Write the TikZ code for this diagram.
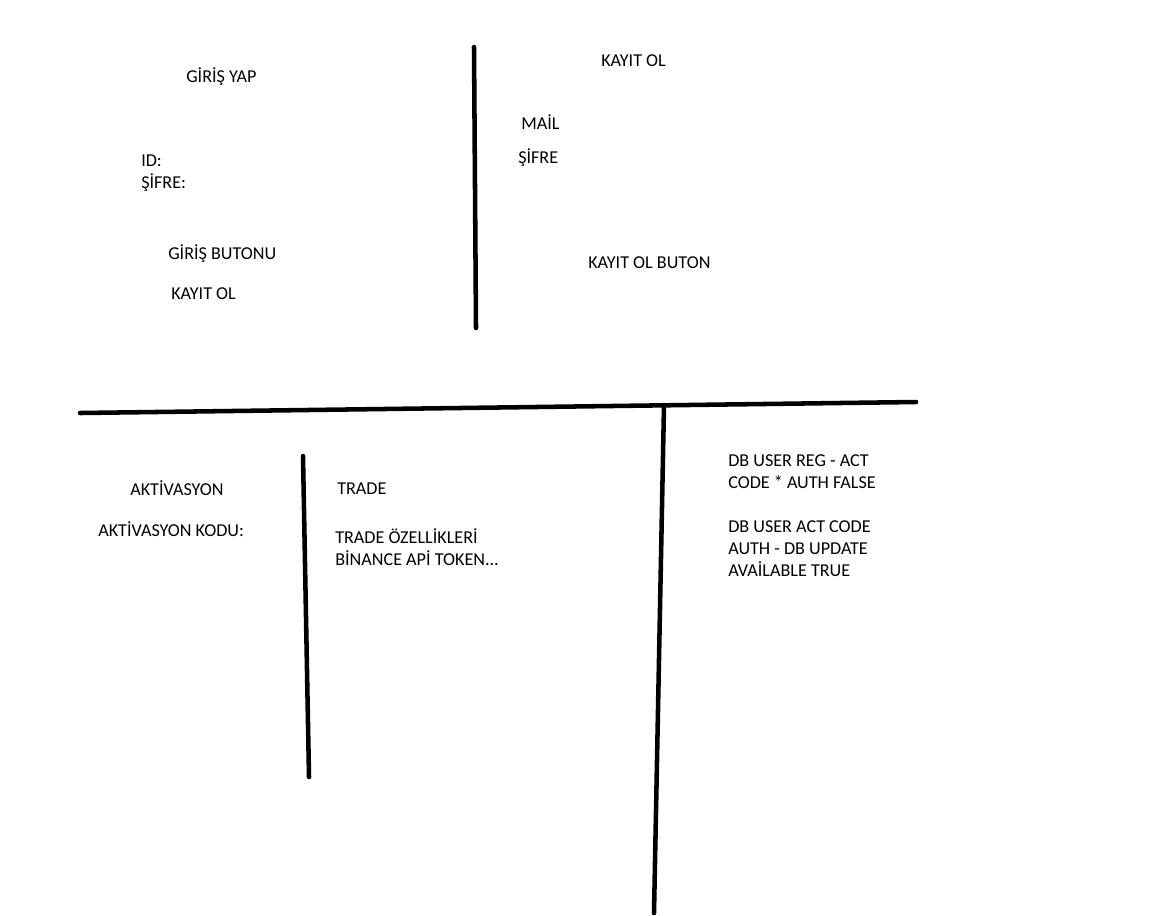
\documentclass[tikz,border=0pt]{standalone}
\usepackage{fontspec}
\setmainfont{Carlito}
\usetikzlibrary{positioning}

\tikzset{
  lbl/.style={anchor=west, inner sep=0pt, align=left, font=\fontsize{13.6pt}{16.5pt}\selectfont},
  pen/.style={line width=3.4pt, line cap=round}
}

\begin{document}
\begin{tikzpicture}[x=0.75pt,y=-0.75pt]
        \useasboundingbox (0,0) rectangle (1152,915);
        \fill[white] (0,0) rectangle (1152,915);

        % Ayirici cizgiler
        \draw[pen] (474,47) -- (476,328);
        \draw[pen] (80,413) -- (916,402);
        \draw[pen] (664,405) -- (654,913);
        \draw[pen] (303,456) -- (309,777);

        % Giris ekrani
        \node[lbl] (girisyap) at (186,77) {GİRİŞ YAP};
        \node[lbl] (idsifre) at (141,173) {ID:\\ŞİFRE:};
        \node[lbl] (girisbuton) at (168,254) {GİRİŞ BUTONU};
        \node[lbl] (giriskayit) at (171,294) {KAYIT OL};

        % Kayit ekrani
        \node[lbl] (kayitol) at (601,61) {KAYIT OL};
        \node[lbl] (mail) at (521,122) {MAİL};
        \node[lbl] (kayitsifre) at (518,158) {ŞİFRE};
        \node[lbl] (kayitbuton) at (588,263) {KAYIT OL BUTON};

        % Aktivasyon
        \node[lbl] (aktivasyon) at (130,488) {AKTİVASYON};
        \node[lbl] (aktkodu) at (98,529) {AKTİVASYON KODU:};

        % Trade
        \node[lbl] (trade) at (337,489) {TRADE};
        \node[lbl] (tradeozellik) at (335,547) {TRADE ÖZELLİKLERİ\\BİNANCE APİ TOKEN...};

        % Veritabani notlari
        \node[lbl] (dbreg) at (728,472) {DB USER REG - ACT\\CODE * AUTH FALSE};
        \node[lbl] (dbact) at (728,549) {DB USER ACT CODE\\AUTH - DB UPDATE\\AVAİLABLE TRUE};
    \end{tikzpicture}
\end{document}
